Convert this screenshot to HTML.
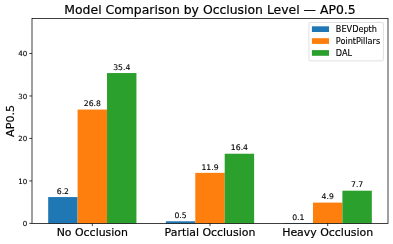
<!DOCTYPE html>
<html><head><meta charset="utf-8"><title>Model Comparison by Occlusion Level</title>
<style>html,body{margin:0;padding:0;background:#fff;overflow:hidden}svg{display:block}text{font-family:"DejaVu Sans","Liberation Sans",sans-serif;fill:#000;stroke:#000;stroke-width:0.2px}text.s{stroke-width:0.11px}</style></head><body>
<svg width="393" height="244" viewBox="0 0 393 244">
<rect x="0" y="0" width="393" height="244" fill="#ffffff"/>
<rect x="48.18" y="197.07" width="29.42" height="26.33" fill="#1f77b4"/>
<text x="62.89" y="193.77" class="s" font-size="7.7" text-anchor="middle">6.2</text>
<rect x="77.60" y="109.57" width="29.42" height="113.83" fill="#ff7f0e"/>
<text x="92.31" y="106.27" class="s" font-size="7.7" text-anchor="middle">26.8</text>
<rect x="107.02" y="73.04" width="29.42" height="150.36" fill="#2ca02c"/>
<text x="121.74" y="69.74" class="s" font-size="7.7" text-anchor="middle">35.4</text>
<rect x="165.87" y="221.28" width="29.42" height="2.12" fill="#1f77b4"/>
<text x="180.58" y="217.98" class="s" font-size="7.7" text-anchor="middle">0.5</text>
<rect x="195.29" y="172.85" width="29.42" height="50.55" fill="#ff7f0e"/>
<text x="210.00" y="169.55" class="s" font-size="7.7" text-anchor="middle">11.9</text>
<rect x="224.71" y="153.74" width="29.42" height="69.66" fill="#2ca02c"/>
<text x="239.42" y="150.44" class="s" font-size="7.7" text-anchor="middle">16.4</text>
<rect x="283.55" y="222.98" width="29.42" height="0.42" fill="#1f77b4"/>
<text x="298.26" y="219.68" class="s" font-size="7.7" text-anchor="middle">0.1</text>
<rect x="312.98" y="202.59" width="29.42" height="20.81" fill="#ff7f0e"/>
<text x="327.69" y="199.29" class="s" font-size="7.7" text-anchor="middle">4.9</text>
<rect x="342.40" y="190.69" width="29.42" height="32.71" fill="#2ca02c"/>
<text x="357.11" y="187.39" class="s" font-size="7.7" text-anchor="middle">7.7</text>
<line x1="29.30" y1="223.40" x2="32.00" y2="223.40" stroke="#000" stroke-width="0.75"/>
<text x="27.30" y="226.33" class="s" font-size="7.05" text-anchor="end">0</text>
<line x1="29.30" y1="180.93" x2="32.00" y2="180.93" stroke="#000" stroke-width="0.75"/>
<text x="27.30" y="183.85" class="s" font-size="7.05" text-anchor="end">10</text>
<line x1="29.30" y1="138.45" x2="32.00" y2="138.45" stroke="#000" stroke-width="0.75"/>
<text x="27.30" y="141.38" class="s" font-size="7.05" text-anchor="end">20</text>
<line x1="29.30" y1="95.97" x2="32.00" y2="95.97" stroke="#000" stroke-width="0.75"/>
<text x="27.30" y="98.90" class="s" font-size="7.05" text-anchor="end">30</text>
<line x1="29.30" y1="53.50" x2="32.00" y2="53.50" stroke="#000" stroke-width="0.75"/>
<text x="27.30" y="56.43" class="s" font-size="7.05" text-anchor="end">40</text>
<line x1="92.31" y1="223.40" x2="92.31" y2="226.10" stroke="#000" stroke-width="0.75"/>
<text x="92.31" y="236.35" font-size="10.95" text-anchor="middle">No Occlusion</text>
<line x1="210.00" y1="223.40" x2="210.00" y2="226.10" stroke="#000" stroke-width="0.75"/>
<text x="210.00" y="236.35" font-size="10.95" text-anchor="middle">Partial Occlusion</text>
<line x1="327.69" y1="223.40" x2="327.69" y2="226.10" stroke="#000" stroke-width="0.75"/>
<text x="327.69" y="236.35" font-size="10.95" text-anchor="middle">Heavy Occlusion</text>
<rect x="32.0" y="18.5" width="356.0" height="204.90" fill="none" stroke="#000" stroke-width="0.75"/>
<text x="210.00" y="13.9" font-size="12.42" text-anchor="middle">Model Comparison by Occlusion Level — AP0.5</text>
<text transform="translate(13.8,120.95) rotate(-90)" font-size="11.1" text-anchor="middle">AP0.5</text>
<rect x="308.9" y="22.45" width="74.5" height="38.45" rx="1.6" ry="1.6" fill="#fff" fill-opacity="0.8" stroke="#cccccc" stroke-opacity="0.8" stroke-width="0.75"/>
<rect x="311.9" y="26.30" width="17.1" height="5.7" fill="#1f77b4"/>
<text x="335.8" y="32.10" class="s" font-size="8.17">BEVDepth</text>
<rect x="311.9" y="38.20" width="17.1" height="5.7" fill="#ff7f0e"/>
<text x="335.8" y="44.00" class="s" font-size="8.17">PointPillars</text>
<rect x="311.9" y="50.10" width="17.1" height="5.7" fill="#2ca02c"/>
<text x="335.8" y="55.90" class="s" font-size="8.17">DAL</text>
</svg></body></html>
